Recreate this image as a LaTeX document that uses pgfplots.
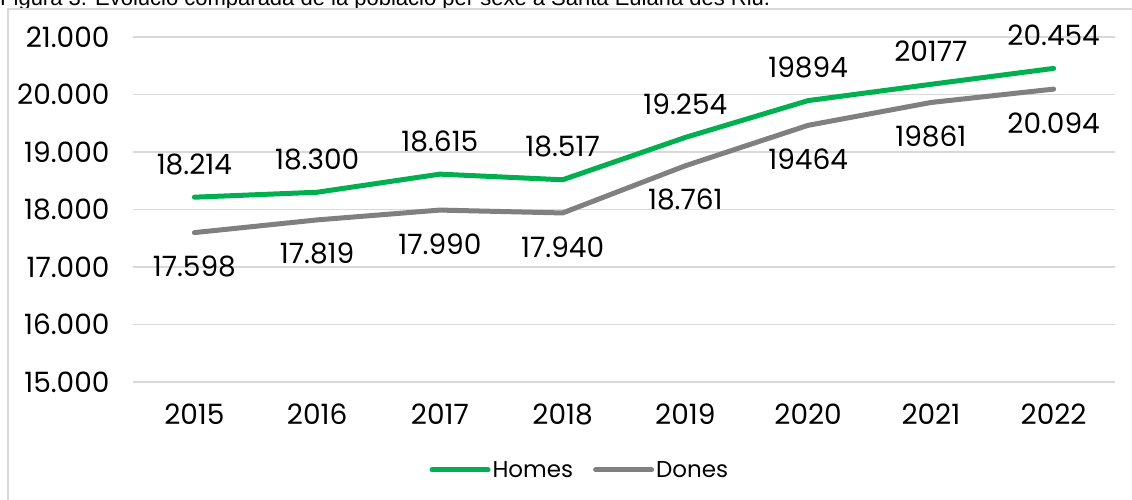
\documentclass[border=0pt]{standalone}
\usepackage{fontspec}
\setmainfont{Poppins}
\newfontfamily\titlefont{Liberation Sans}
\usepackage{pgfplots}
\usepackage{pgfplotstable}
\pgfplotsset{compat=1.18}
\definecolor{cgreen}{HTML}{00B050}
\definecolor{cgray}{HTML}{808080}
\definecolor{cgrid}{HTML}{D9D9D9}
\newcommand\cf{\fontsize{28}{32}\selectfont}
\newcommand\lf{\fontsize{23}{27}\selectfont}
\pgfplotstableread{
x y lab
0 18214 18.214
1 18300 18.300
2 18615 18.615
3 18517 18.517
4 19254 19.254
5 19894 19894
6 20177 20177
7 20454 20.454
}\homes
\pgfplotstableread{
x y lab
0 17598 17.598
1 17819 17.819
2 17990 17.990
3 17940 17.940
4 18761 18.761
5 19464 19464
6 19861 19861
7 20094 20.094
}\dones
\begin{document}
\begin{tikzpicture}[x=1pt,y=1pt]
\useasboundingbox (0,0) rectangle (1132,499);
\clip (0,0) rectangle (1132,499);
\node[anchor=base west, inner sep=0pt, font=\titlefont\fontsize{22}{26}\selectfont] at (0,493) {Figura 3. Evolució comparada de la població per sexe a Santa Eulària des Riu.};
\draw[cgrid, line width=1.5pt] (8,-5) -- (8,490) -- (1140,490);
\begin{axis}[
  at={(133pt,117pt)}, anchor=south west,
  width=982pt, height=345pt, scale only axis,
  xmin=-0.5, xmax=7.5, ymin=15000, ymax=21000,
  xtick={0,...,7},
  xticklabels={2015,2016,2017,2018,2019,2020,2021,2022},
  ytick={15000,16000,...,21000},
  scaled y ticks=false,
  yticklabel={\pgfmathprintnumber[fixed,1000 sep={.}]{\tick}},
  /pgf/number format/assume math mode=true,
  ymajorgrids, grid style={cgrid, line width=1.5pt},
  axis line style={draw=none},
  major tick length=0pt,
  tick label style={font=\cf},
  xticklabel style={yshift=-18pt},
  yticklabel style={xshift=-20pt},
  clip=false,
  legend style={draw=none, fill=none, at={(0.455,-0.255)}, anchor=center, font=\lf,
    legend columns=2, /tikz/every even column/.append style={column sep=18pt},
    inner sep=0pt},
  legend image code/.code={\draw[#1, line cap=round] (0pt,0pt) -- (56pt,0pt);},
  every axis plot/.append style={line width=5pt, line cap=round, line join=round},
]
\addplot[cgreen, nodes near coords, point meta=explicit symbolic,
  every node near coord/.append style={text=black, font=\cf, anchor=center, yshift=33pt}]
  table[x=x, y=y, meta=lab] {\homes};
\addlegendentry{Homes}
\addplot[cgray, nodes near coords, point meta=explicit symbolic,
  every node near coord/.append style={text=black, font=\cf, anchor=center, yshift=-34pt}]
  table[x=x, y=y, meta=lab] {\dones};
\addlegendentry{Dones}
\end{axis}
\end{tikzpicture}
\end{document}
